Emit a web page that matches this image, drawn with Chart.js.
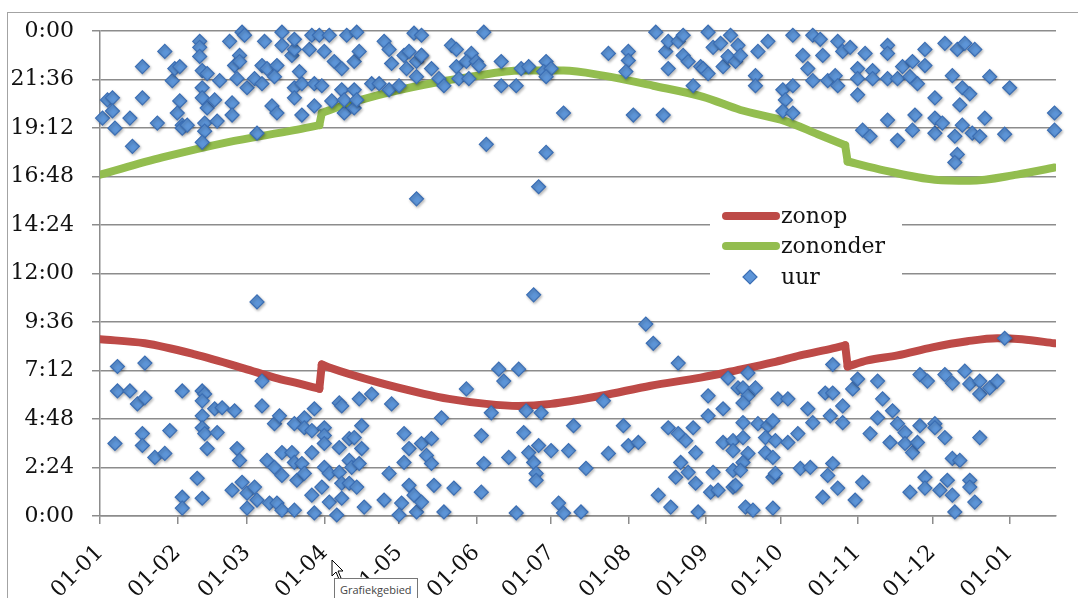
<!DOCTYPE html>
<html>
<head>
<meta charset="utf-8">
<script src="https://cdn.jsdelivr.net/npm/chart.js@4.4.1/dist/chart.umd.min.js"></script>
<style>
  html, body { margin: 0; padding: 0; background: #fff; overflow: hidden; }
  #wrap { position: relative; width: 1078px; height: 640px; }
  #frame { position: absolute; left: 7px; top: 12px; right: 0; bottom: 0;
           border-left: 1.5px solid #a3a3a3; border-top: 1.5px solid #a3a3a3; }
  #tip { position: absolute; left: 334px; top: 578px; padding: 3px 5px;
         font: 11px "Open Sans", sans-serif; color: #444; background: #fff;
         border: 1px solid #767676; }
  #cursor { position: absolute; left: 331px; top: 559px; }
  canvas { position: absolute; left: 0; top: 0; }
</style>
</head>
<body>
<div id="wrap">
  <div id="frame"></div>
  <canvas id="zonChart" width="1078" height="640"></canvas>
  <svg id="cursor" width="14" height="22"><path d="M1 1 L1 17 L5 13 L8 20 L10 19 L7 12 L12 12 Z" fill="#fff" stroke="#000" stroke-width="1"/></svg>
  <div id="tip">Grafiekgebied</div>
</div>
<script>
// x = day of year (0 = 1 jan), y = time in hours
const xTickDays = [0, 31, 59, 90, 120, 151, 181, 212, 243, 273, 304, 334, 365];
const xTickLabels = ['01-01', '01-02', '01-03', '01-04', '01-05', '01-06', '01-07',
                     '01-08', '01-09', '01-10', '01-11', '01-12', '01-01'];
const yTicks = [0, 2.4, 4.8, 7.2, 9.6, 12, 14.4, 16.8, 19.2, 21.6, 24];

// last day before the clock change (summer time on / off)
const wisselDagen = [88, 299];

// sunrise
const zonop = [[0,8.75],[18,8.55],[38,8.0],[58,7.3],[70,6.85],[80,6.55],[88,6.3],[89,7.5],[92,7.35],
  [112,6.6],[130,6.05],[140,5.8],[155,5.55],[168,5.45],[181,5.55],[201,5.95],[221,6.45],[241,6.85],
  [255,7.2],[270,7.6],[281,7.95],[294,8.3],[299,8.45],[300,7.4],[308,7.7],[320,7.95],[334,8.35],
  [348,8.65],[360,8.8],[370,8.75],[383,8.55]];

// sunset
const zononder = [[0,16.9],[25,17.75],[51,18.5],[78,19.1],[88,19.35],[89,19.95],[98,20.35],[112,20.85],
  [130,21.35],[149,21.75],[169,22.05],[186,22.05],[202,21.8],[222,21.3],[242,20.75],[257,20.1],
  [275,19.55],[288,18.9],[299,18.35],[300,17.55],[315,17.1],[335,16.65],[349,16.6],[368,16.9],[383,17.25]];

// observations (evening)
const uurAvond = [[1,19.7],[3,20.6],[5,20.7],[5,20.05],[6,19.2],[12,19.7],[13,18.3],[17,22.25],[17,20.7],
  [23,19.45],[26,23.0],[29,21.55],[30,22.15],[32,22.25],[32,20.55],[31,19.95],[33,19.35],[33,19.2],
  [35,19.35],[40,23.5],[40,23.2],[40,22.75],[41,22.05],[43,21.9],[41,21.2],[41,20.7],[43,20.2],
  [42,19.45],[42,19.05],[41,18.5],[46,20.6],[47,19.55],[48,21.55],[52,23.5],[53,20.45],[53,19.85],
  [54,22.3],[56,22.8],[56,22.5],[57,23.95],[58,23.8],[55,21.65],[59,21.2],[62,21.65],[65,22.3],
  [65,21.4],[63,18.95],[66,23.5],[67,22.15],[69,20.3],[71,22.3],[70,21.75],[71,19.95],[73,23.95],
  [73,23.3],[77,22.8],[78,23.1],[78,23.6],[80,22.0],[78,21.2],[78,20.7],[81,21.4],[81,19.85],
  [84,23.1],[85,23.8],[86,21.4],[86,20.3],[89,21.3],[88,23.8],[90,23.0],[92,23.8],[93,20.55],
  [94,22.5],[97,22.15],[97,21.1],[98,19.95],[98,20.6],[99,23.8],[102,21.1],[102,22.5],[103,23.95],
  [104,23.0],[102,20.2],[103,20.6],[109,21.4],[112,21.4],[114,23.5],[116,23.1],[116,21.1],[117,22.4],
  [120,21.3],[122,22.8],[123,22.15],[124,23.0],[126,23.9],[127,22.5],[127,21.75],[129,22.8],[127,15.7],
  [129,23.8],[129,22.8],[133,22.15],[136,21.65],[138,21.3],[141,23.3],[143,23.1],[143,22.25],
  [144,21.65],[149,22.9],[147,22.5],[148,21.65],[151,22.5],[152,22.3],[154,23.95],[161,22.5],
  [161,21.3],[167,21.3],[169,22.15],[172,22.25],[179,22.5],[178,22.0],[181,22.15],[179,21.75],
  [186,19.95],[155,18.4],[179,18.0],[176,16.3],[204,22.9],[212,23.0],[212,22.55],[211,22.0],
  [214,19.85],[223,23.95],[227,23.0],[228,23.5],[228,22.15],[232,23.5],[234,23.8],[234,22.8],
  [236,22.5],[238,21.3],[241,22.25],[242,22.15],[244,23.95],[244,21.9],[246,23.2],[249,23.4],
  [250,22.25],[252,22.75],[253,23.8],[255,22.5],[226,19.85],[256,23.3],[257,22.8],[264,23.0],
  [268,23.5],[263,21.8],[263,21.3],[278,23.8],[282,22.8],[284,22.15],[286,21.55],[286,23.8],
  [289,23.6],[290,22.8],[274,21.1],[275,20.6],[274,20.05],[278,21.3],[278,19.95],[292,21.55],
  [296,23.5],[295,21.8],[296,21.3],[298,23.0],[301,23.2],[304,20.85],[304,22.15],[304,21.65],
  [307,22.9],[310,22.05],[310,21.65],[306,19.1],[309,18.8],[316,23.3],[316,22.9],[316,21.65],
  [316,19.6],[320,18.6],[320,21.65],[322,22.25],[325,21.75],[326,22.5],[328,21.4],[327,19.85],
  [326,19.1],[331,23.1],[331,22.3],[335,20.7],[335,18.95],[335,19.7],[338,19.45],[339,23.4],
  [342,21.8],[343,18.8],[344,23.1],[347,23.4],[346,21.2],[345,20.35],[349,20.9],[346,19.35],
  [351,23.1],[350,18.95],[353,18.8],[344,17.9],[343,17.5],[355,19.7],[357,21.75],[363,18.9],
  [365,21.2],[383,19.95],[383,19.1]];

// observations (night / morning)
const uurNacht = [[63,10.6],[7,7.4],[18,7.57],[7,6.19],[12,6.19],[15,5.55],[18,5.85],[6,3.59],[17,4.08],
  [17,3.49],[22,2.9],[26,3.1],[28,4.23],[33,6.19],[41,6.19],[42,6.04],[41,5.7],[41,4.96],[46,5.31],
  [49,5.36],[54,5.21],[41,4.37],[42,4.08],[47,4.13],[43,3.34],[39,1.87],[33,0.93],[33,0.39],[41,0.88],
  [55,3.34],[56,2.75],[53,1.28],[57,1.67],[59,1.13],[62,1.43],[63,0.79],[59,0.39],[65,6.68],[65,5.45],
  [67,2.75],[70,2.41],[73,2.01],[73,3.14],[70,4.57],[72,4.96],[68,0.64],[71,0.64],[73,0.29],[78,4.57],
  [77,3.14],[78,2.65],[79,1.77],[81,2.6],[82,2.11],[78,0.29],[82,4.86],[86,5.31],[82,4.37],[85,4.23],
  [85,3.14],[85,1.03],[86,0.15],[89,1.43],[90,4.37],[90,3.98],[90,3.59],[90,2.41],[92,0.69],[92,2.11],
  [96,5.6],[97,5.45],[96,3.39],[96,2.16],[97,1.62],[97,0.88],[95,0.05],[100,3.83],[102,3.88],
  [100,2.75],[101,2.41],[104,2.6],[105,3.34],[105,4.47],[104,5.8],[109,6.04],[100,1.62],[103,1.43],
  [106,0.44],[114,0.79],[116,2.11],[117,5.55],[122,4.08],[124,3.34],[122,2.65],[124,1.52],[126,1.03],
  [121,0.64],[120,0.05],[127,0.2],[129,3.59],[174,10.95],[133,3.83],[131,3.0],[133,2.6],[134,1.52],
  [129,0.69],[138,0.2],[142,1.38],[137,4.86],[147,6.29],[153,3.98],[154,2.6],[153,1.18],[157,5.11],
  [160,7.27],[162,6.68],[168,7.27],[164,2.9],[167,0.15],[170,4.13],[171,5.21],[177,5.11],[172,3.14],
  [176,3.49],[174,2.65],[175,2.11],[175,1.77],[181,3.24],[184,0.64],[186,0.15],[193,0.2],[188,3.24],
  [190,4.47],[195,2.36],[202,5.7],[204,3.1],[210,4.47],[212,3.49],[216,3.64],[219,9.5],[222,8.55],
  [224,1.03],[229,0.44],[228,4.37],[232,4.08],[235,3.73],[232,7.57],[238,4.37],[239,3.14],[233,2.65],
  [231,1.92],[236,2.16],[239,1.62],[240,0.2],[244,5.95],[244,4.96],[246,2.16],[245,1.18],[248,1.28],
  [250,5.31],[250,3.64],[254,3.73],[254,3.24],[254,2.26],[254,1.43],[252,6.83],[256,6.34],[260,7.08],
  [258,6.34],[260,5.95],[263,6.34],[258,5.6],[258,4.62],[264,4.57],[268,4.47],[270,4.72],[258,3.88],
  [267,3.88],[271,3.73],[267,3.14],[270,2.9],[260,3.1],[258,2.65],[257,2.26],[255,1.52],[270,1.92],
  [271,2.11],[259,0.44],[262,0.29],[270,0.39],[272,5.8],[276,5.8],[276,3.64],[280,4.08],[281,2.36],
  [285,2.41],[284,5.31],[286,4.62],[291,6.09],[294,6.09],[293,4.96],[298,5.45],[298,4.62],[294,7.5],
  [294,2.6],[292,2.01],[296,1.38],[290,0.93],[302,6.29],[304,6.78],[312,6.68],[306,1.67],[303,0.79],
  [314,5.8],[309,4.08],[312,4.86],[318,5.21],[317,3.64],[320,4.57],[323,4.13],[323,3.59],[326,3.14],
  [328,3.64],[329,4.47],[335,4.57],[335,4.37],[339,3.88],[329,7.0],[332,6.68],[339,7.0],[342,6.58],
  [347,7.17],[349,6.54],[353,6.68],[353,6.04],[357,6.34],[360,6.68],[353,3.88],[342,2.85],[345,2.75],
  [331,1.92],[325,1.18],[331,1.38],[337,1.28],[340,1.77],[342,1.03],[343,0.2],[349,1.77],[349,1.43],
  [351,0.69],[363,8.8]];

const toXY = arr => arr.map(p => ({ x: p[0], y: p[1] }));

function fmtTime(v) {
  const m = Math.round(v * 60) % 1440;
  return Math.floor(m / 60) + ':' + String(m % 60).padStart(2, '0');
}

// split a sun curve at the clock changes: smooth pieces + straight jumps
function curveDatasets(arr, label, color, order) {
  const cuts = wisselDagen.map(d => arr.findIndex(p => p[0] === d));
  const sets = [];
  let start = 0;
  const base = { type: 'line', label: label, borderColor: color, borderWidth: 8,
                 pointRadius: 0, borderCapStyle: 'round', borderJoinStyle: 'round', order: order };
  cuts.forEach(c => {
    sets.push(Object.assign({}, base, { data: toXY(arr.slice(start, c + 1)), cubicInterpolationMode: 'monotone' }));
    sets.push(Object.assign({}, base, { data: toXY(arr.slice(c, c + 2)), tension: 0 }));
    start = c + 1;
  });
  sets.push(Object.assign({}, base, { data: toXY(arr.slice(start)), cubicInterpolationMode: 'monotone' }));
  return sets;
}

const serif = '"DejaVu Serif", serif';
const rood = '#bd4a47';
const groen = '#93bd4f';
const blauw = '#5d95d8';
const blauwRand = '#3b6eb4';

// soft shadow under the markers, like the original
const markerShadow = {
  id: 'markerShadow',
  beforeDatasetDraw(chart, args) {
    if (args.index !== 0) return;
    const c = chart.ctx;
    c.save();
    c.shadowColor = 'rgba(0,0,0,0.28)';
    c.shadowBlur = 3;
    c.shadowOffsetX = 1;
    c.shadowOffsetY = 1.5;
  },
  afterDatasetDraw(chart, args) {
    if (args.index !== 0) return;
    chart.ctx.restore();
  }
};

// legend inside the plot, Excel style
const innerLegend = {
  id: 'innerLegend',
  afterDraw(chart) {
    const c = chart.ctx;
    c.save();
    c.fillStyle = '#fff';
    c.fillRect(710, 196, 192, 100);
    const rows = [
      { label: 'zonop', color: rood, y: 216, line: true },
      { label: 'zononder', color: groen, y: 246, line: true },
      { label: 'uur', y: 277, line: false }
    ];
    c.font = '22px ' + serif;
    c.textBaseline = 'middle';
    rows.forEach(r => {
      if (r.line) {
        c.strokeStyle = r.color;
        c.lineWidth = 8;
        c.lineCap = 'round';
        c.beginPath();
        c.moveTo(726, r.y);
        c.lineTo(776, r.y);
        c.stroke();
      } else {
        c.fillStyle = blauw;
        c.strokeStyle = blauwRand;
        c.lineWidth = 1.2;
        c.beginPath();
        c.moveTo(750, r.y - 7);
        c.lineTo(757, r.y);
        c.lineTo(750, r.y + 7);
        c.lineTo(743, r.y);
        c.closePath();
        c.fill();
        c.stroke();
      }
      c.fillStyle = '#111';
      c.fillText(r.label, 781, r.y + 1);
    });
    c.restore();
  }
};

const ctx = document.getElementById('zonChart').getContext('2d');
const zonChart = new Chart(ctx, {
  type: 'scatter',
  data: {
    datasets: [
      {
        label: 'uur',
        data: toXY(uurAvond.concat(uurNacht)),
        pointStyle: 'rectRot',
        pointRadius: 7,
        backgroundColor: blauw,
        borderColor: blauwRand,
        borderWidth: 1.2,
        clip: false,
        order: 1
      }
    ].concat(curveDatasets(zonop, 'zonop', rood, 2), curveDatasets(zononder, 'zononder', groen, 3))
  },
  options: {
    responsive: false,
    animation: false,
    layout: { padding: { left: 0, right: 22, top: 28, bottom: 0 } },
    plugins: { legend: { display: false }, tooltip: { enabled: false } },
    scales: {
      x: {
        type: 'linear',
        min: 0,
        max: 383.6,
        afterFit: s => { s.height = 124; },
        afterBuildTicks: s => { s.ticks = xTickDays.map(v => ({ value: v })); },
        grid: { drawOnChartArea: false, drawTicks: true, tickLength: 8, color: '#8c8c8c', lineWidth: 1.5 },
        border: { color: '#8c8c8c', width: 1.5 },
        ticks: {
          autoSkip: false,
          minRotation: 45,
          maxRotation: 45,
          padding: 16,
          color: '#111',
          font: { family: serif, size: 22 },
          callback: (v, i) => xTickLabels[i]
        }
      },
      y: {
        min: 0,
        max: 24,
        afterFit: s => { s.width = 100; },
        afterBuildTicks: s => { s.ticks = yTicks.map(v => ({ value: v })); },
        grid: { color: '#8c8c8c', lineWidth: 1.5, tickLength: 8 },
        border: { color: '#8c8c8c', width: 1.5 },
        ticks: {
          padding: 18,
          color: '#111',
          font: { family: serif, size: 22 },
          callback: v => fmtTime(v)
        }
      }
    }
  },
  plugins: [markerShadow, innerLegend]
});
</script>
</body>
</html>
